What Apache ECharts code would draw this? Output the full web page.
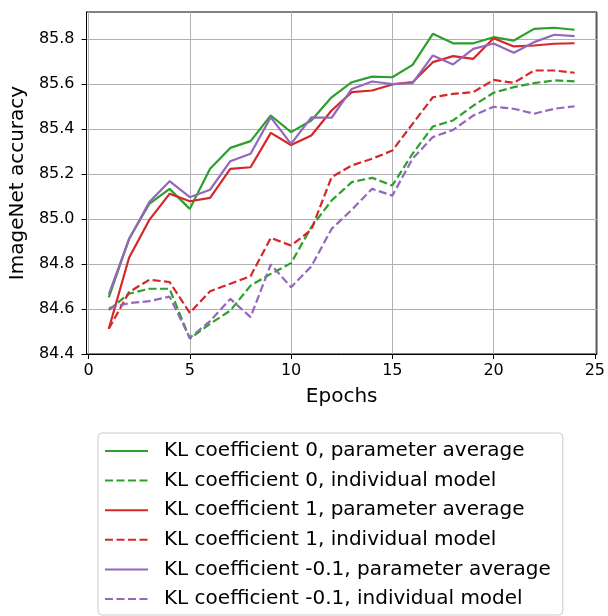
<!DOCTYPE html>
<html>
<head>
<meta charset="utf-8">
<script src="https://cdn.jsdelivr.net/npm/echarts@6/dist/echarts.min.js"></script>
<style>
    html, body { margin: 0; padding: 0; background: #fff; }
    #chart { width: 608px; height: 616px; }
</style>
</head>
<body>
<div id="chart"></div>
<script>
    // epochs and accuracies
    var epochs = [1, 2, 3, 4, 5, 6, 7, 8, 9, 10, 11, 12, 13, 14, 15, 16, 17, 18, 19, 20, 21, 22, 23, 24];
    var kl0Avg = [84.652, 84.912, 85.067, 85.134, 85.045, 85.223, 85.316, 85.346, 85.46, 85.386, 85.438, 85.541,
                  85.608, 85.633, 85.63, 85.685, 85.823, 85.781, 85.781, 85.808, 85.793, 85.845, 85.85, 85.841];
    var kl0Ind = [84.596, 84.668, 84.69, 84.69, 84.468, 84.534, 84.593, 84.704, 84.756, 84.804, 84.964, 85.082,
                  85.164, 85.183, 85.149, 85.29, 85.411, 85.438, 85.504, 85.561, 85.586, 85.604, 85.616, 85.612];
    var kl1Avg = [84.512, 84.828, 84.996, 85.112, 85.079, 85.094, 85.223, 85.23, 85.383, 85.329, 85.371, 85.482,
                  85.564, 85.571, 85.598, 85.608, 85.697, 85.724, 85.712, 85.803, 85.767, 85.771, 85.779, 85.781];
    var kl1Ind = [84.512, 84.675, 84.73, 84.72, 84.583, 84.679, 84.712, 84.746, 84.916, 84.882, 84.952, 85.186,
                  85.238, 85.268, 85.304, 85.423, 85.541, 85.556, 85.564, 85.618, 85.605, 85.66, 85.66, 85.65];
    var klm01Avg = [84.665, 84.91, 85.075, 85.168, 85.097, 85.13, 85.257, 85.29, 85.452, 85.334, 85.452, 85.45,
                    85.578, 85.611, 85.6, 85.604, 85.727, 85.687, 85.756, 85.78, 85.739, 85.786, 85.819, 85.813];
    var klm01Ind = [84.604, 84.626, 84.635, 84.655, 84.472, 84.546, 84.645, 84.564, 84.798, 84.697, 84.789, 84.956,
                    85.041, 85.134, 85.104, 85.268, 85.364, 85.396, 85.46, 85.499, 85.49, 85.468, 85.49, 85.501];

    var xTicks = [0, 5, 10, 15, 20, 25];
    var yTicks = [84.4, 84.6, 84.8, 85.0, 85.2, 85.4, 85.6, 85.8];

    var names = ['KL coefficient 0, parameter average', 'KL coefficient 0, individual model',
                 'KL coefficient 1, parameter average', 'KL coefficient 1, individual model',
                 'KL coefficient -0.1, parameter average', 'KL coefficient -0.1, individual model'];
    var values = [kl0Avg, kl0Ind, kl1Avg, kl1Ind, klm01Avg, klm01Ind];
    var colors = ['#2ca02c', '#2ca02c', '#d62728', '#d62728', '#9467bd', '#9467bd'];
    var font = 'DejaVu Sans';

    function pairs(ys) {
        var out = [];
        for (var i = 0; i < epochs.length; i++) {
            out.push([epochs[i], ys[i]]);
        }
        return out;
    }

    var series = [];
    for (var k = 0; k < names.length; k++) {
        series.push({
            name: names[k],
            type: 'line',
            data: pairs(values[k]),
            symbol: 'none',
            silent: true,
            lineStyle: {
                color: colors[k],
                width: 2.2,
                type: k % 2 === 1 ? [8, 3.5] : 'solid'
            },
            itemStyle: { color: colors[k] }
        });
    }

    var mychart = echarts.init(document.getElementById('chart'));
    var option = {
        animation: false,
        grid: {
            left: 85,
            right: 7,
            top: 12,
            bottom: 262,
            show: true,
            borderColor: '#000',
            borderWidth: 1
        },
        xAxis: {
            type: 'value',
            min: -0.1,
            max: 25.1,
            name: 'Epochs',
            nameLocation: 'middle',
            nameGap: 33,
            nameTextStyle: { fontFamily: font, fontSize: 20, color: '#000' },
            axisLine: { show: true, onZero: false, lineStyle: { color: '#000', width: 1 } },
            axisTick: { show: true, length: 5, customValues: xTicks, lineStyle: { color: '#000' } },
            axisLabel: {
                customValues: xTicks,
                margin: 9,
                fontFamily: font,
                fontSize: 16,
                color: '#000'
            },
            splitLine: { show: true, lineStyle: { color: '#b0b0b0', width: 1 } }
        },
        yAxis: {
            type: 'value',
            min: 84.4,
            max: 85.92,
            name: 'ImageNet accuracy',
            nameLocation: 'middle',
            nameGap: 53,
            nameTextStyle: { fontFamily: font, fontSize: 20, color: '#000' },
            axisLine: { show: true, onZero: false, lineStyle: { color: '#000', width: 1 } },
            axisTick: { show: true, length: 5, customValues: yTicks, lineStyle: { color: '#000' } },
            axisLabel: {
                customValues: yTicks,
                margin: 12,
                fontFamily: font,
                fontSize: 16,
                color: '#000',
                formatter: function (v) { return v.toFixed(1); }
            },
            splitLine: { show: true, lineStyle: { color: '#b0b0b0', width: 1 } }
        },
        legend: {
            data: names,
            orient: 'vertical',
            left: 98,
            top: 433,
            height: 200,
            padding: [8, 12, 6, 6],
            itemWidth: 43,
            itemHeight: 14,
            itemGap: 9.6,
            itemStyle: { opacity: 0 },
            borderColor: '#cccccc',
            borderWidth: 1,
            borderRadius: 4,
            backgroundColor: '#fff',
            textStyle: {
                fontFamily: font,
                fontSize: 20,
                lineHeight: 20,
                color: '#000',
                padding: [0, 0, 0, 11]
            }
        },
        series: series
    };
    mychart.setOption(option);
</script>
</body>
</html>
